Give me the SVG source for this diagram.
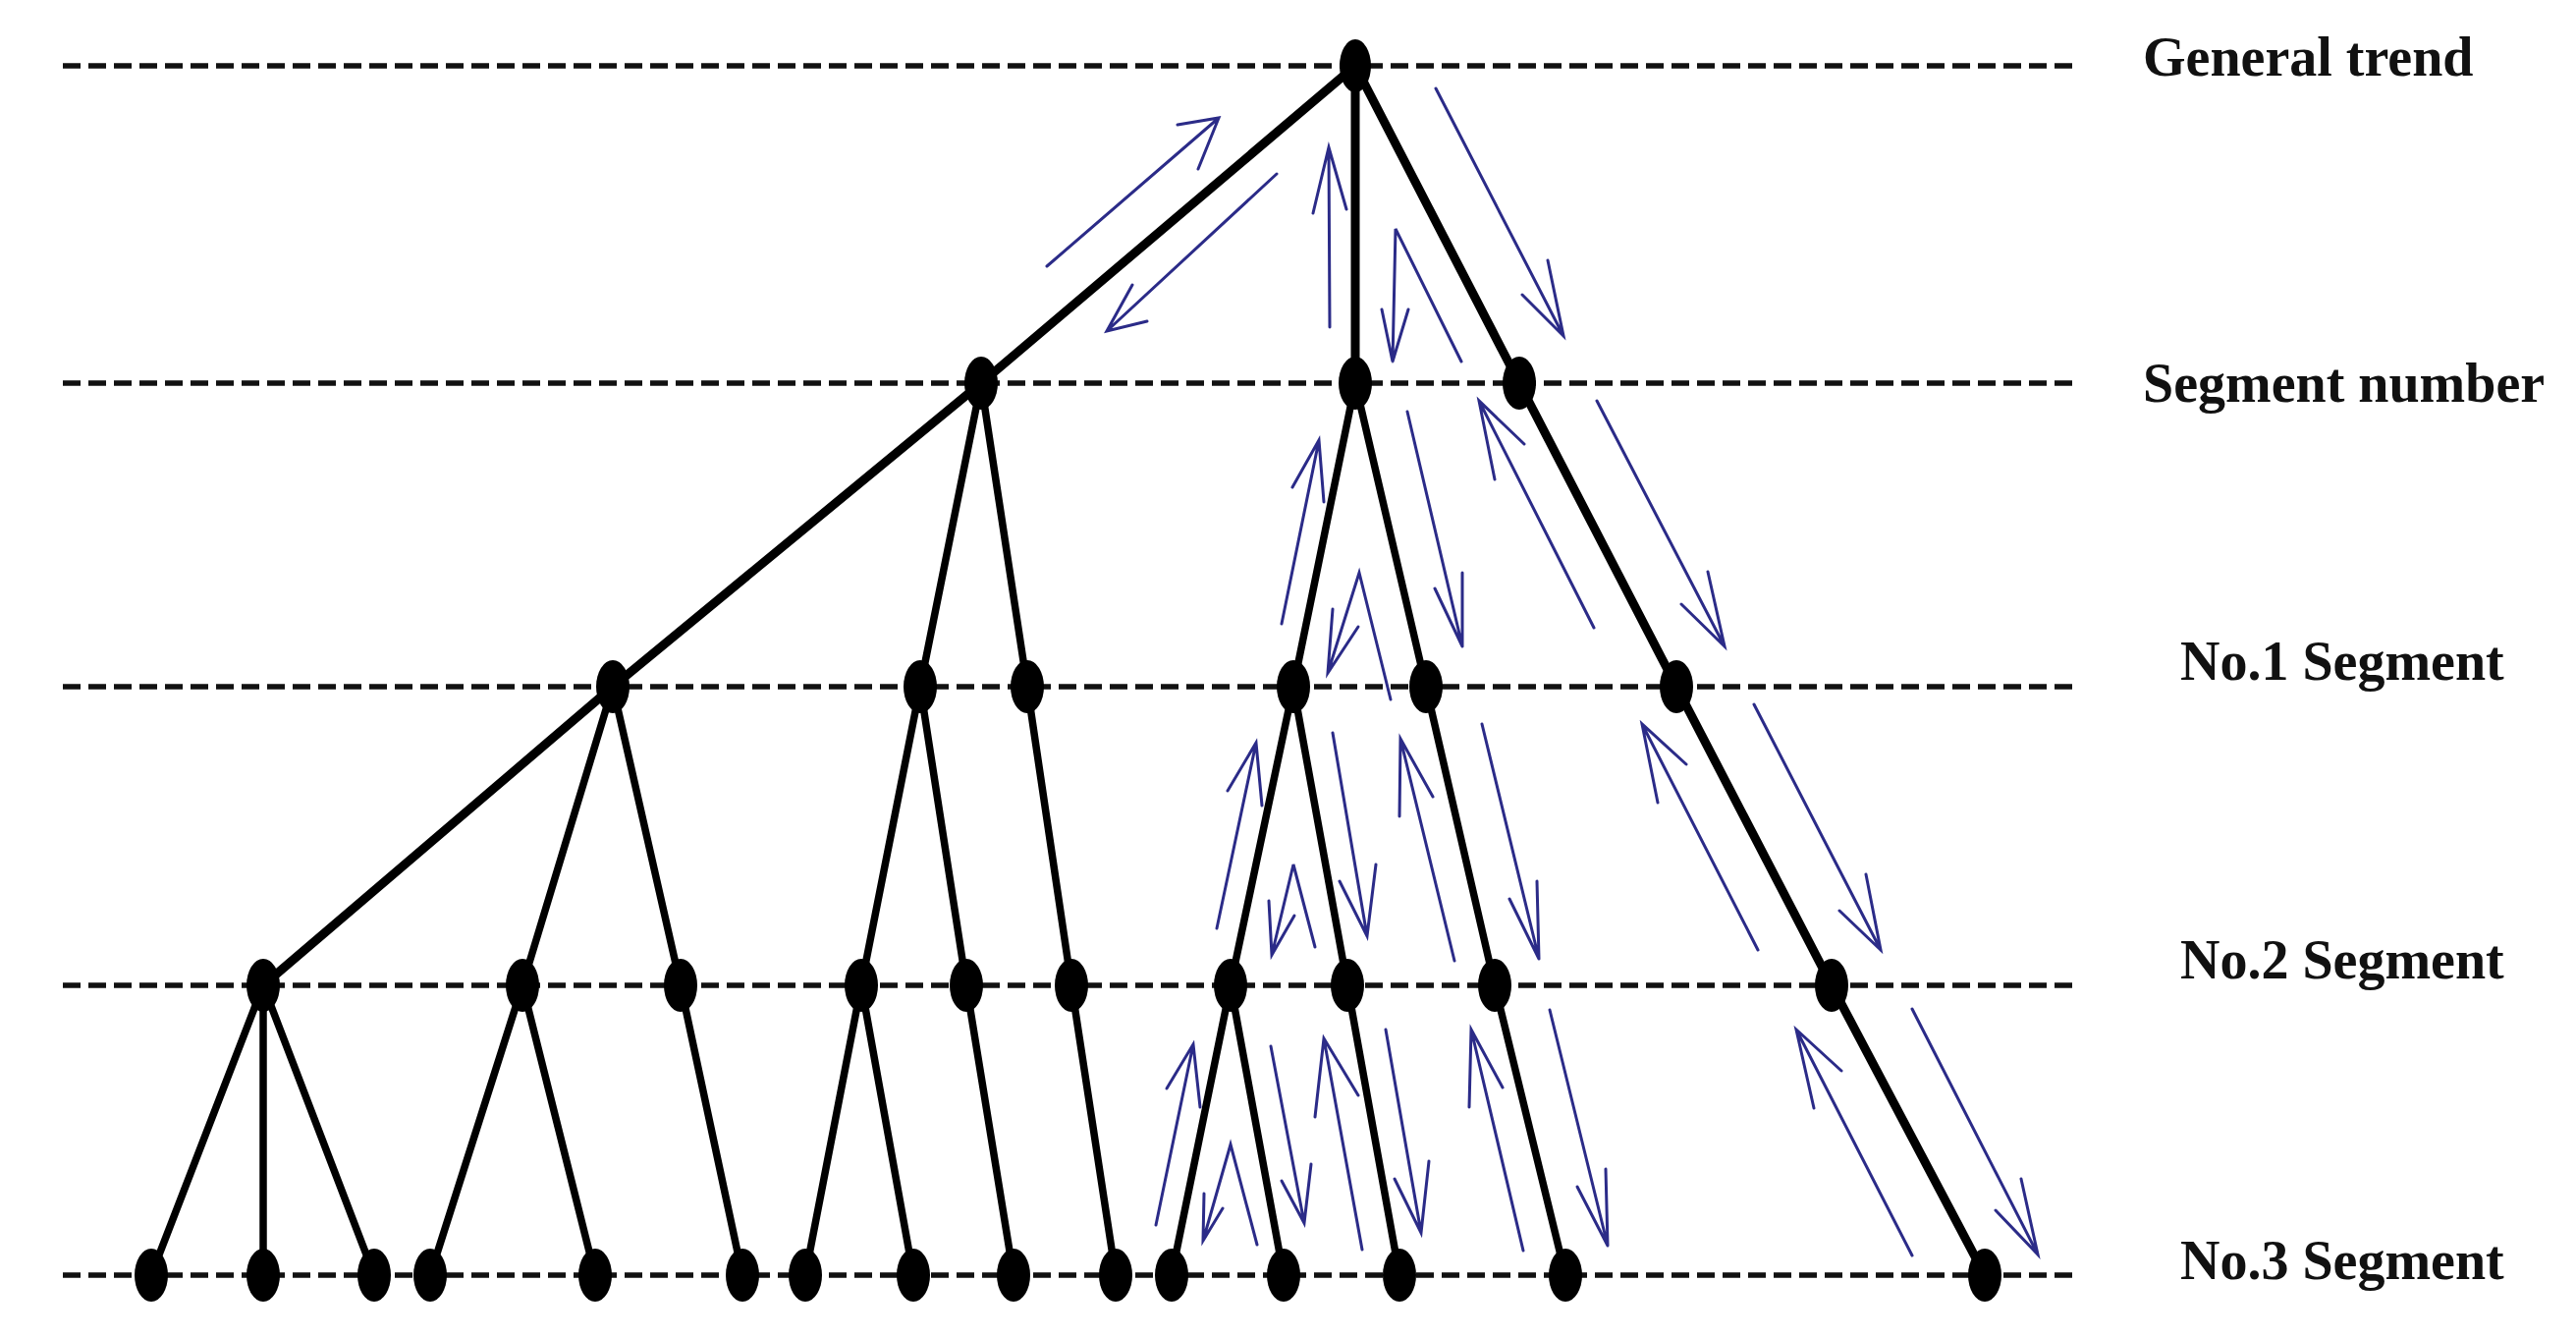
<svg xmlns="http://www.w3.org/2000/svg" width="2623" height="1362" viewBox="0 0 2623 1362">
<style>
.grid{stroke:#111;stroke-width:5.5;stroke-dasharray:18 8;fill:none}
.e{stroke:#000;stroke-width:7.5;fill:none;stroke-linecap:round}
.eb{stroke:#000;stroke-width:9;fill:none;stroke-linecap:round}
.a{stroke:#2b2b88;stroke-width:3;fill:none;stroke-linecap:round;stroke-linejoin:miter}
.n{fill:#000}
.lbl{font-family:"Liberation Serif","Times New Roman",serif;font-weight:bold;font-size:56px;fill:#111}
</style>
<rect width="2623" height="1362" fill="#fff"/>
<g id="levels">
<line class="grid" x1="64" y1="67" x2="2118" y2="67"/>
<line class="grid" x1="64" y1="390" x2="2118" y2="390"/>
<line class="grid" x1="64" y1="699" x2="2118" y2="699"/>
<line class="grid" x1="64" y1="1003" x2="2118" y2="1003"/>
<line class="grid" x1="64" y1="1298" x2="2118" y2="1298"/>
</g>
<g id="connectors">
<line class="eb" x1="1380" y1="67" x2="999" y2="390"/>
<line class="eb" x1="1380" y1="67" x2="1380" y2="390"/>
<line class="eb" x1="1380" y1="67" x2="1547" y2="390"/>
<line class="eb" x1="999" y1="390" x2="624" y2="699"/>
<line class="e" x1="999" y1="390" x2="937" y2="699"/>
<line class="e" x1="999" y1="390" x2="1046" y2="699"/>
<line class="e" x1="1380" y1="390" x2="1317" y2="699"/>
<line class="e" x1="1380" y1="390" x2="1452" y2="699"/>
<line class="eb" x1="1547" y1="390" x2="1707" y2="699"/>
<line class="eb" x1="624" y1="699" x2="268" y2="1003"/>
<line class="e" x1="624" y1="699" x2="532" y2="1003"/>
<line class="e" x1="624" y1="699" x2="693" y2="1003"/>
<line class="e" x1="937" y1="699" x2="877" y2="1003"/>
<line class="e" x1="937" y1="699" x2="984" y2="1003"/>
<line class="e" x1="1046" y1="699" x2="1091" y2="1003"/>
<line class="e" x1="1317" y1="699" x2="1253" y2="1003"/>
<line class="e" x1="1317" y1="699" x2="1372" y2="1003"/>
<line class="e" x1="1452" y1="699" x2="1522" y2="1003"/>
<line class="eb" x1="1707" y1="699" x2="1865" y2="1003"/>
<line class="e" x1="268" y1="1003" x2="154" y2="1298"/>
<line class="e" x1="268" y1="1003" x2="268" y2="1298"/>
<line class="e" x1="268" y1="1003" x2="381" y2="1298"/>
<line class="e" x1="532" y1="1003" x2="438" y2="1298"/>
<line class="e" x1="532" y1="1003" x2="606" y2="1298"/>
<line class="e" x1="693" y1="1003" x2="756" y2="1298"/>
<line class="e" x1="877" y1="1003" x2="820" y2="1298"/>
<line class="e" x1="877" y1="1003" x2="930" y2="1298"/>
<line class="e" x1="984" y1="1003" x2="1032" y2="1298"/>
<line class="e" x1="1091" y1="1003" x2="1136" y2="1298"/>
<line class="e" x1="1253" y1="1003" x2="1193" y2="1298"/>
<line class="e" x1="1253" y1="1003" x2="1307" y2="1298"/>
<line class="e" x1="1372" y1="1003" x2="1425" y2="1298"/>
<line class="e" x1="1522" y1="1003" x2="1594" y2="1298"/>
<line class="eb" x1="1865" y1="1003" x2="2021" y2="1298"/>
</g>
<g id="flow-arrows">
<path class="a" d="M1066,271 L1241,120 M1199,127 L1241,120 L1220,172"/>
<path class="a" d="M1300,177 L1127,337 M1168,327 L1127,337 L1153,290"/>
<path class="a" d="M1354,333 L1353,150 M1337,217 L1353,150 L1371,213"/>
<path class="a" d="M1488,368 L1421,233 L1418,368 M1407,315 L1418,368 L1434,315"/>
<path class="a" d="M1462,90 L1592,342 M1550,300 L1592,342 L1576,265"/>
<path class="a" d="M1305,635 L1343,448 M1316,496 L1343,448 L1348,511"/>
<path class="a" d="M1416,712 L1384,583 L1352,685 M1357,620 L1352,685 L1383,638"/>
<path class="a" d="M1433,419 L1489,658 M1461,599 L1489,658 L1489,583"/>
<path class="a" d="M1623,639 L1506,408 M1522,488 L1506,408 L1552,452"/>
<path class="a" d="M1626,408 L1756,658 M1712,615 L1756,658 L1739,582"/>
<path class="a" d="M1239,945 L1279,756 M1250,805 L1279,756 L1285,820"/>
<path class="a" d="M1339,964 L1317,880 L1295,972 M1292,917 L1295,972 L1318,932"/>
<path class="a" d="M1357,746 L1392,953 M1364,897 L1392,953 L1401,880"/>
<path class="a" d="M1481,978 L1426,752 M1425,831 L1426,752 L1459,811"/>
<path class="a" d="M1509,737 L1567,976 M1537,915 L1567,976 L1565,897"/>
<path class="a" d="M1790,967 L1672,737 M1717,778 L1672,737 L1688,817"/>
<path class="a" d="M1786,717 L1915,967 M1873,927 L1915,967 L1900,890"/>
<path class="a" d="M1177,1247 L1215,1063 M1188,1108 L1215,1063 L1222,1127"/>
<path class="a" d="M1280,1267 L1253,1165 L1225,1263 M1226,1215 L1225,1263 L1245,1230"/>
<path class="a" d="M1294,1065 L1328,1245 M1305,1202 L1328,1245 L1335,1185"/>
<path class="a" d="M1387,1272 L1348,1057 M1339,1137 L1348,1057 L1383,1115"/>
<path class="a" d="M1411,1048 L1447,1255 M1420,1200 L1447,1255 L1455,1182"/>
<path class="a" d="M1551,1273 L1498,1048 M1496,1127 L1498,1048 L1530,1107"/>
<path class="a" d="M1578,1028 L1637,1268 M1606,1208 L1637,1268 L1635,1190"/>
<path class="a" d="M1947,1278 L1829,1048 M1875,1090 L1829,1048 L1847,1128"/>
<path class="a" d="M1947,1027 L2075,1277 M2032,1232 L2075,1277 L2058,1200"/>
</g>
<g id="node-l1-0"><ellipse class="n" cx="1380" cy="67" rx="16" ry="27"/></g>
<g id="node-l2-0"><ellipse class="n" cx="999" cy="390" rx="17" ry="27"/></g>
<g id="node-l2-1"><ellipse class="n" cx="1380" cy="390" rx="17" ry="27"/></g>
<g id="node-l2-2"><ellipse class="n" cx="1547" cy="390" rx="17" ry="27"/></g>
<g id="node-l3-0"><ellipse class="n" cx="624" cy="699" rx="17" ry="27"/></g>
<g id="node-l3-1"><ellipse class="n" cx="937" cy="699" rx="17" ry="27"/></g>
<g id="node-l3-2"><ellipse class="n" cx="1046" cy="699" rx="17" ry="27"/></g>
<g id="node-l3-3"><ellipse class="n" cx="1317" cy="699" rx="17" ry="27"/></g>
<g id="node-l3-4"><ellipse class="n" cx="1452" cy="699" rx="17" ry="27"/></g>
<g id="node-l3-5"><ellipse class="n" cx="1707" cy="699" rx="17" ry="27"/></g>
<g id="node-l4-0"><ellipse class="n" cx="268" cy="1003" rx="17" ry="27"/></g>
<g id="node-l4-1"><ellipse class="n" cx="532" cy="1003" rx="17" ry="27"/></g>
<g id="node-l4-2"><ellipse class="n" cx="693" cy="1003" rx="17" ry="27"/></g>
<g id="node-l4-3"><ellipse class="n" cx="877" cy="1003" rx="17" ry="27"/></g>
<g id="node-l4-4"><ellipse class="n" cx="984" cy="1003" rx="17" ry="27"/></g>
<g id="node-l4-5"><ellipse class="n" cx="1091" cy="1003" rx="17" ry="27"/></g>
<g id="node-l4-6"><ellipse class="n" cx="1253" cy="1003" rx="17" ry="27"/></g>
<g id="node-l4-7"><ellipse class="n" cx="1372" cy="1003" rx="17" ry="27"/></g>
<g id="node-l4-8"><ellipse class="n" cx="1522" cy="1003" rx="17" ry="27"/></g>
<g id="node-l4-9"><ellipse class="n" cx="1865" cy="1003" rx="17" ry="27"/></g>
<g id="node-l5-0"><ellipse class="n" cx="154" cy="1298" rx="17" ry="27"/></g>
<g id="node-l5-1"><ellipse class="n" cx="268" cy="1298" rx="17" ry="27"/></g>
<g id="node-l5-2"><ellipse class="n" cx="381" cy="1298" rx="17" ry="27"/></g>
<g id="node-l5-3"><ellipse class="n" cx="438" cy="1298" rx="17" ry="27"/></g>
<g id="node-l5-4"><ellipse class="n" cx="606" cy="1298" rx="17" ry="27"/></g>
<g id="node-l5-5"><ellipse class="n" cx="756" cy="1298" rx="17" ry="27"/></g>
<g id="node-l5-6"><ellipse class="n" cx="820" cy="1298" rx="17" ry="27"/></g>
<g id="node-l5-7"><ellipse class="n" cx="930" cy="1298" rx="17" ry="27"/></g>
<g id="node-l5-8"><ellipse class="n" cx="1032" cy="1298" rx="17" ry="27"/></g>
<g id="node-l5-9"><ellipse class="n" cx="1136" cy="1298" rx="17" ry="27"/></g>
<g id="node-l5-10"><ellipse class="n" cx="1193" cy="1298" rx="17" ry="27"/></g>
<g id="node-l5-11"><ellipse class="n" cx="1307" cy="1298" rx="17" ry="27"/></g>
<g id="node-l5-12"><ellipse class="n" cx="1425" cy="1298" rx="17" ry="27"/></g>
<g id="node-l5-13"><ellipse class="n" cx="1594" cy="1298" rx="17" ry="27"/></g>
<g id="node-l5-14"><ellipse class="n" cx="2021" cy="1298" rx="17" ry="27"/></g>
<g id="labels">
<text class="lbl" x="2182" y="77">General trend</text>
<text class="lbl" x="2182" y="409">Segment number</text>
<text class="lbl" x="2220" y="692">No.1 Segment</text>
<text class="lbl" x="2220" y="996">No.2 Segment</text>
<text class="lbl" x="2220" y="1302">No.3 Segment</text>
</g>
</svg>
